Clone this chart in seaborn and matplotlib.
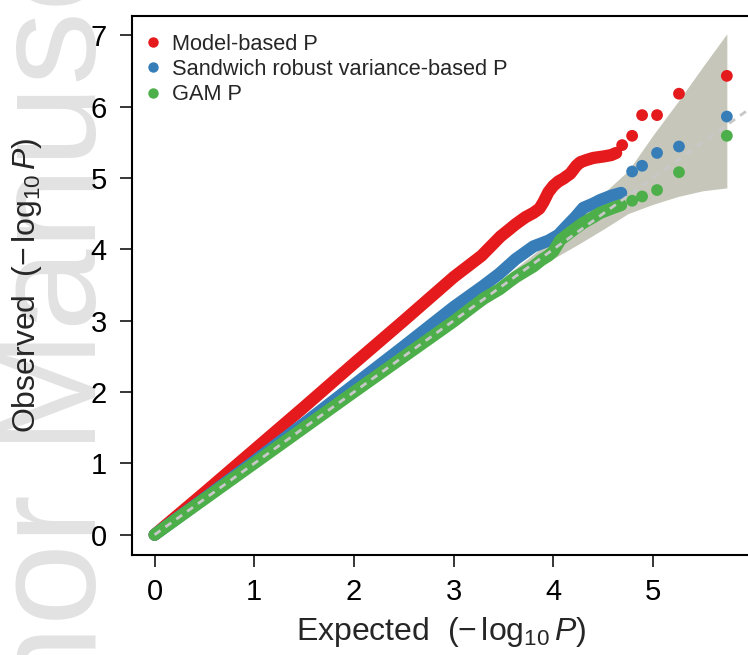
import numpy as np
import pandas as pd
import matplotlib
matplotlib.use('Agg')
import matplotlib.pyplot as plt
import seaborn as sns
from matplotlib.lines import Line2D

# ---- data ----
series_names = ['Model-based P', 'Sandwich robust variance-based P', 'GAM P']
series_colors = ['#e41a1c', '#377eb8', '#4daf4a']

# dense part of each curve (overlapping points, drawn as a thick trace)
model_x = [0.0, 0.5, 1.0, 1.5, 2.0, 2.5, 3.0, 3.28, 3.47, 3.55, 3.62, 3.72, 3.80,
           3.86, 3.90, 3.95, 4.00, 4.05, 4.10, 4.17, 4.23, 4.27, 4.33, 4.40,
           4.50, 4.58, 4.63]
model_y = [0.0, 0.59, 1.19, 1.79, 2.40, 3.00, 3.61, 3.91, 4.18, 4.27, 4.35, 4.45, 4.51,
           4.57, 4.66, 4.80, 4.89, 4.95, 4.99, 5.06, 5.17, 5.22, 5.25, 5.28,
           5.30, 5.32, 5.35]
sandwich_x = [0.0, 0.5, 1.0, 1.5, 2.0, 2.5, 3.0, 3.30, 3.46, 3.62, 3.80, 3.95,
              4.05, 4.13, 4.22, 4.30, 4.40, 4.47, 4.58, 4.68]
sandwich_y = [0.0, 0.51, 1.03, 1.56, 2.10, 2.64, 3.19, 3.49, 3.66, 3.86, 4.04, 4.12,
              4.20, 4.32, 4.45, 4.58, 4.64, 4.69, 4.75, 4.79]
gam_x = [0.0, 1.0, 2.0, 3.0, 3.30, 3.46, 3.62, 3.80, 3.88, 3.95, 4.00, 4.07,
         4.20, 4.30, 4.40, 4.47, 4.58, 4.68]
gam_y = [0.0, 1.0, 2.0, 2.99, 3.31, 3.44, 3.61, 3.76, 3.85, 3.91, 3.97, 4.13,
         4.27, 4.37, 4.45, 4.51, 4.57, 4.62]

# the few separate points at the top end
model_tail_x = [4.69, 4.79, 4.89, 5.04, 5.26, 5.74]
model_tail_y = [5.46, 5.59, 5.88, 5.88, 6.18, 6.43]
sandwich_tail_x = [4.79, 4.89, 5.04, 5.26, 5.74]
sandwich_tail_y = [5.09, 5.17, 5.35, 5.44, 5.86]
gam_tail_x = [4.79, 4.89, 5.04, 5.26, 5.74]
gam_tail_y = [4.68, 4.74, 4.83, 5.08, 5.59]

# 95% band around the null
ci_x = [2.0, 3.0, 3.5, 4.0, 4.25, 4.5, 4.75, 5.0, 5.25, 5.5, 5.74]
ci_lo = [1.97, 2.93, 3.40, 3.87, 4.07, 4.28, 4.50, 4.63, 4.74, 4.82, 4.86]
ci_hi = [2.03, 3.07, 3.60, 4.15, 4.45, 4.78, 5.10, 5.60, 6.07, 6.56, 7.02]

# y = x reference line, from 0 to past the right edge
ref_line = [0.0, 6.1]

x_ticks = [0, 1, 2, 3, 4, 5]
y_ticks = [0, 1, 2, 3, 4, 5, 6, 7]


def main():
    sns.set_style('white')
    plt.rcParams['font.family'] = ['Liberation Sans', 'DejaVu Sans']
    plt.rcParams['mathtext.fontset'] = 'custom'
    plt.rcParams['mathtext.rm'] = 'Liberation Sans'
    plt.rcParams['mathtext.it'] = 'Liberation Sans:italic'

    dense = pd.concat([
        pd.DataFrame({'x': model_x, 'y': model_y, 'series': series_names[0]}),
        pd.DataFrame({'x': sandwich_x, 'y': sandwich_y, 'series': series_names[1]}),
        pd.DataFrame({'x': gam_x, 'y': gam_y, 'series': series_names[2]}),
    ])
    tail = pd.concat([
        pd.DataFrame({'x': model_tail_x, 'y': model_tail_y, 'series': series_names[0]}),
        pd.DataFrame({'x': sandwich_tail_x, 'y': sandwich_tail_y, 'series': series_names[1]}),
        pd.DataFrame({'x': gam_tail_x, 'y': gam_tail_y, 'series': series_names[2]}),
    ])
    palette = dict(zip(series_names, series_colors))

    fig = plt.figure(figsize=(7.48, 6.55), dpi=100)
    # faint watermark behind the plot
    fig.text(0.128, -0.417, 'Author Manuscript', rotation=90, rotation_mode='anchor',
             ha='left', va='baseline', fontsize=106, color='#e2e2e2', zorder=-5)

    ax = fig.add_axes([0.176, 0.1531, 0.8277, 0.8226])
    ax.fill_between(ci_x, ci_lo, ci_hi, color='#c6c7ba', lw=0, zorder=1)

    for name in series_names:
        sub = dense[dense['series'] == name]
        sns.lineplot(data=sub, x='x', y='y', color=palette[name], lw=8.8,
                     sort=False, estimator=None, solid_capstyle='round',
                     solid_joinstyle='round', ax=ax, zorder=3, legend=False)
    sns.scatterplot(data=tail, x='x', y='y', hue='series', palette=palette,
                    s=72, linewidth=0, ax=ax, zorder=4, legend=False)

    ax.plot(ref_line, ref_line, color='#c8c8c8', lw=2.0, dashes=(2.6, 2.2), zorder=5)

    ax.set_xlim(-0.23, 5.98)
    ax.set_ylim(-0.28, 7.27)
    ax.set_xticks(x_ticks)
    ax.set_yticks(y_ticks)
    ax.tick_params(axis='both', direction='out', length=8.8, width=1.1,
                   labelsize=21, colors='black', bottom=True, left=True)
    ax.tick_params(axis='x', pad=8)
    ax.tick_params(axis='y', pad=9)
    for sp in ax.spines.values():
        sp.set_linewidth(1.5)
        sp.set_color('black')

    ax.set_xlabel(r'Expected  $\left(-\,\log_{10}P\right)$', fontsize=23)
    ax.set_ylabel(r'Observed  $\left(-\,\log_{10}P\right)$', fontsize=23)
    ax.xaxis.set_label_coords(0.5, -0.112)
    ax.yaxis.set_label_coords(-0.142, 0.5)

    handles = [Line2D([], [], ls='none', marker='o', markersize=7.5,
                      markerfacecolor=c, markeredgewidth=0) for c in series_colors]
    ax.legend(handles, series_names, loc='upper left', bbox_to_anchor=(0.0215, 0.967),
              frameon=False, fontsize=15.7, handlelength=0.7, handletextpad=0.55,
              labelspacing=0.2, borderpad=0, borderaxespad=0)

    fig.savefig('out.png', dpi=100)
    plt.close(fig)


if __name__ == '__main__':
    main()
